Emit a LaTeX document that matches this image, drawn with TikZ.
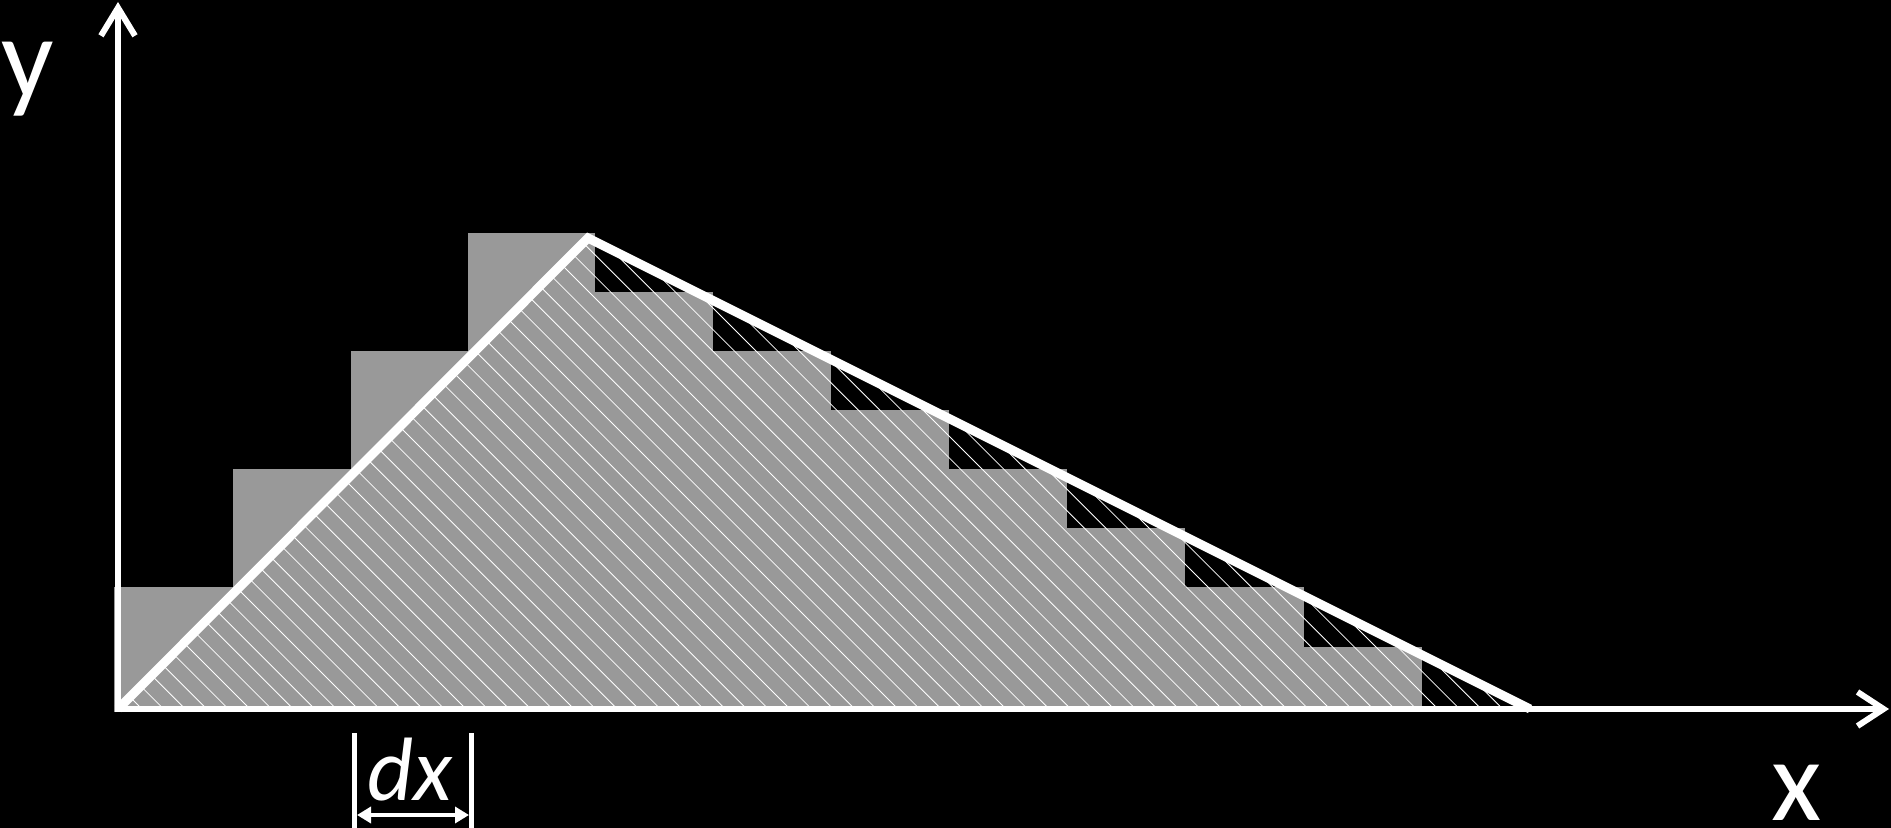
\documentclass[tikz,border=0pt]{standalone}
\usepackage{fontspec}
\setmainfont{Carlito}
\usetikzlibrary{arrows.meta}
\definecolor{bargray}{RGB}{153,153,153}
\begin{document}
\begin{tikzpicture}[x={(0.5pt,0)}, y={(0,-0.5pt)},
  bar/.style={fill=bargray, draw=none},
  hatch/.style={draw=white, line width=0.4pt},
  curve/.style={draw=white, line width=4.5pt, line join=miter},
  axis/.style={draw=white, line width=3pt},
  lbl/.style={text=white, inner sep=0pt, font=\fontsize{58}{60}\selectfont},
  dxlbl/.style={text=white, inner sep=0pt, font=\itshape\fontsize{45}{47}\selectfont},
  tickline/.style={draw=white, line width=2.5pt},
  dxarrow/.style={draw=white, line width=2pt, {Triangle[length=7pt,width=8pt]}-{Triangle[length=7pt,width=8pt]}}
]
\fill[black] (0,0) rectangle (1891,828);
\useasboundingbox (0,0) rectangle (1891,828);

% coordinates
\coordinate (O) at (118,709);
\coordinate (P) at (588,238);
\coordinate (E) at (1530,709);
\coordinate (Ytop) at (118,2);
\coordinate (Ybot) at (118,712);
\coordinate (Xleft) at (115,709);
\coordinate (Xright) at (1889,709);

% bars
\fill[bar] (114,712) rectangle (233,587);
\fill[bar] (233,712) rectangle (351,469);
\fill[bar] (351,712) rectangle (468,351);
\fill[bar] (468,712) rectangle (595,233);
\fill[bar] (595,712) rectangle (713,292);
\fill[bar] (713,712) rectangle (831,351);
\fill[bar] (831,712) rectangle (949,410);
\fill[bar] (949,712) rectangle (1067,469);
\fill[bar] (1067,712) rectangle (1185,528);
\fill[bar] (1185,712) rectangle (1304,587);
\fill[bar] (1304,712) rectangle (1422,647);

% hatching
\begin{scope}
\clip (O) -- (P) -- (E) -- cycle;
\foreach \i in {0,...,67} {
  \pgfmathsetmacro\c{-610.2+21.6*\i}
  \draw[hatch] ({\c+100},100) -- ({\c+800},800);
}
\end{scope}

% triangle
\draw[curve] (O) -- (P) -- (E);

% axes
\draw[axis, -{Straight Barb[length=14pt,width=17pt]}] (Ybot) -- (Ytop);
\draw[axis, -{Straight Barb[length=13pt,width=17pt]}] (Xleft) -- (Xright);

% labels
\node[lbl, anchor=base west] (ylab) at (1,98) {y};
\node[lbl, anchor=base west] (xlab) at (1771,820) {x};

% dx marker
\coordinate (t1a) at (354.5,733);
\coordinate (t1b) at (354.5,830);
\coordinate (t2a) at (471.5,733);
\coordinate (t2b) at (471.5,830);
\coordinate (a1) at (357,815);
\coordinate (a2) at (469,815);
\draw[tickline] (t1a) -- (t1b);
\draw[tickline] (t2a) -- (t2b);
\draw[dxarrow] (a1) -- (a2);
\node[dxlbl, anchor=base] (dxlab) at (410,800) {dx};
\end{tikzpicture}
\end{document}
